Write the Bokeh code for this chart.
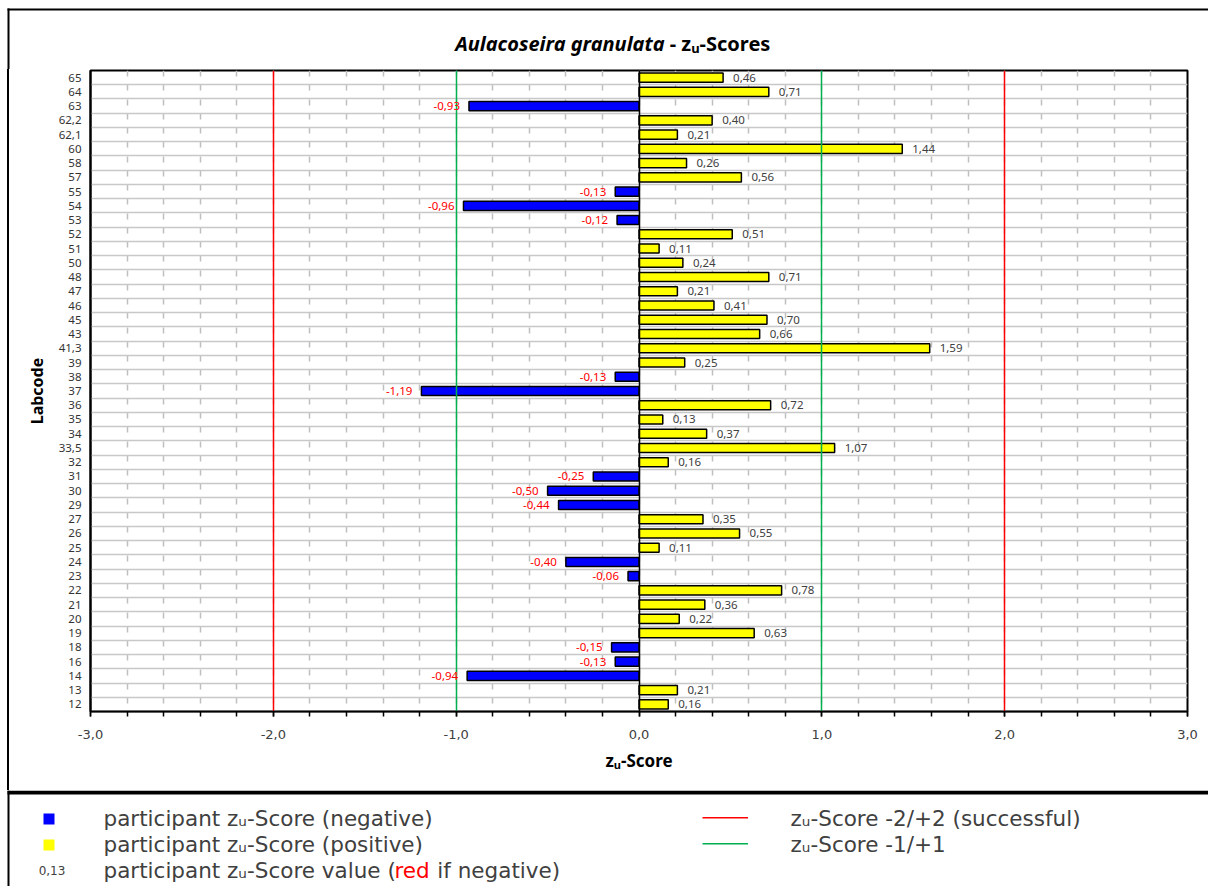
from bokeh.plotting import figure
from bokeh.models import FactorRange, Range1d, FixedTicker, ColumnDataSource
from bokeh.transform import dodge
from bokeh.core.properties import value
from bokeh.embed import file_html
from bokeh.resources import INLINE

# ---------------- data ----------------
labcodes = ["65", "64", "63", "62,2", "62,1", "60", "58", "57", "55", "54", "53", "52", "51",
            "50", "48", "47", "46", "45", "43", "41,3", "39", "38", "37", "36", "35", "34",
            "33,5", "32", "31", "30", "29", "27", "26", "25", "24", "23", "22", "21", "20",
            "19", "18", "16", "14", "13", "12"]
zscores = [0.46, 0.71, -0.93, 0.40, 0.21, 1.44, 0.26, 0.56, -0.13, -0.96, -0.12, 0.51, 0.11,
           0.24, 0.71, 0.21, 0.41, 0.70, 0.66, 1.59, 0.25, -0.13, -1.19, 0.72, 0.13, 0.37,
           1.07, 0.16, -0.25, -0.50, -0.44, 0.35, 0.55, 0.11, -0.40, -0.06, 0.78, 0.36, 0.22,
           0.63, -0.15, -0.13, -0.94, 0.21, 0.16]
x_ticks = [-3, -2, -1, 0, 1, 2, 3]
x_tick_labels = ["-3,0", "-2,0", "-1,0", "0,0", "1,0", "2,0", "3,0"]
success_limits = [-2, 2]
warning_limits = [-1, 1]
zero_line = [0]

NEG_COLOR = "#0000FF"
POS_COLOR = "#FFFF00"
RED = "#FF0000"
GREEN = "#00B050"
TXT = "#404040"
NBSP = "\u00a0"

def fmt(v):
    return f"{v:.2f}".replace(".", ",")

colors = [NEG_COLOR if v < 0 else POS_COLOR for v in zscores]
src = ColumnDataSource(dict(lab=labcodes, z=zscores, color=colors))
pos = [(l, v) for l, v in zip(labcodes, zscores) if v >= 0]
neg = [(l, v) for l, v in zip(labcodes, zscores) if v < 0]
pos_src = ColumnDataSource(dict(lab=[a for a, _ in pos], z=[b for _, b in pos], txt=[fmt(b) for _, b in pos]))
neg_src = ColumnDataSource(dict(lab=[a for a, _ in neg], z=[b for _, b in neg], txt=[fmt(b) for _, b in neg]))

minor = [round(-3 + 0.2 * i, 1) for i in range(31)]

W = 1208

# ---------------- title strip ----------------
tt = figure(width=W, height=69, x_range=Range1d(0, W), y_range=Range1d(69, 0),
            output_backend="svg", toolbar_location=None, title=None, min_border=0,
            x_axis_location=None, y_axis_location=None)
tt.outline_line_color = None
tt.background_fill_color = "white"
tt.border_fill_color = "white"
tt.xgrid.visible = False
tt.ygrid.visible = False
tt.segment(x0=[7], y0=[9], x1=[W], y1=[9], line_color="black", line_width=2)
tt.segment(x0=[8], y0=[8], x1=[8], y1=[69], line_color="black", line_width=2)
tt.text(x=[664], y=[43], text=["Aulacoseira granulata"], text_align="right",
        text_baseline="alphabetic", text_font=value("Noto Sans"), text_font_style="bold italic",
        text_font_size="20px", text_color="black")
tt.text(x=[664], y=[43], text=[NBSP + "- zᵤ-Scores"], text_align="left",
        text_baseline="alphabetic", text_font=value("Noto Sans"), text_font_style="bold",
        text_font_size="20px", text_color="black")

# ---------------- main chart ----------------
p = figure(width=W, height=721, x_range=Range1d(-3, 3),
           y_range=FactorRange(factors=labcodes[::-1]),
           output_backend="svg", toolbar_location=None, title=None,
           min_border_left=90, min_border_right=21, min_border_top=1, min_border_bottom=79)
p.styles = {"box-shadow": "inset 7px 0 0 0 #ffffff, inset 9px 0 0 0 #000000"}
p.background_fill_color = "white"
p.border_fill_color = None
p.outline_line_color = "black"
p.outline_line_width = 2
p.outline_line_alpha = 1

# x axis
p.xaxis.ticker = FixedTicker(ticks=x_ticks, minor_ticks=minor)
p.xaxis.major_label_overrides = {t: l for t, l in zip(x_ticks, x_tick_labels)}
p.xaxis.axis_line_color = "black"
p.xaxis.axis_line_width = 1.5
p.xaxis.major_tick_in = 0
p.xaxis.major_tick_out = 5
p.xaxis.minor_tick_in = 0
p.xaxis.minor_tick_out = 5
p.xaxis.major_tick_line_color = "black"
p.xaxis.minor_tick_line_color = "black"
p.xaxis.major_tick_line_width = 1.5
p.xaxis.minor_tick_line_width = 1.5
p.xaxis.major_label_text_font = "DejaVu Sans"
p.xaxis.major_label_text_font_size = "13px"
p.xaxis.major_label_text_color = TXT
p.xaxis.major_label_standoff = 13
p.xaxis.axis_label = "zᵤ-Score"
p.xaxis.axis_label_text_font = "Noto Sans"
p.xaxis.axis_label_text_font_style = "bold"
p.xaxis.axis_label_text_font_size = "17px"
p.xaxis.axis_label_text_color = "black"
p.xaxis.axis_label_standoff = 7

# y axis
p.yaxis.axis_line_color = "black"
p.yaxis.axis_line_width = 2
p.yaxis.major_tick_in = 0
p.yaxis.major_tick_out = 0
p.yaxis.major_label_text_font = "Noto Sans"
p.yaxis.major_label_text_font_size = "11.5px"
p.yaxis.major_label_text_color = "#333333"
p.yaxis.major_label_standoff = 9
p.yaxis.axis_label = "Labcode"
p.yaxis.axis_label_text_font = "Noto Sans"
p.yaxis.axis_label_text_font_style = "bold"
p.yaxis.axis_label_text_font_size = "16px"
p.yaxis.axis_label_text_color = "black"
p.yaxis.axis_label_standoff = 8

# grids
p.ygrid.grid_line_color = None
p.xgrid.ticker = FixedTicker(ticks=minor)
p.xgrid.grid_line_color = "#BFBFBF"
p.xgrid.grid_line_width = 1.5
p.xgrid.grid_line_dash = "6 8 6 8 6 8 6 9"
p.xgrid.grid_line_dash_offset = 6

# horizontal separators between categories
p.hspan(y=dodge("lab", -0.5, range=p.y_range), source=src, line_color="#C8C8C8", line_width=1.5)

# bars
p.hbar(y="lab", left=0, right="z", height=0.64, fill_color="color", line_color="black",
       line_width=1.5, source=src)

# reference lines
p.vspan(x=success_limits, line_color=RED, line_width=1.5)
p.vspan(x=warning_limits, line_color=GREEN, line_width=1.5)
p.vspan(x=zero_line, line_color="black", line_width=1.5)

# value labels
p.text(x="z", y="lab", text="txt", source=pos_src, x_offset=10, text_align="left",
       text_baseline="middle", text_font=value("Noto Sans"), text_font_size="11.5px",
       text_color=TXT)
p.text(x="z", y="lab", text="txt", source=neg_src, x_offset=-9, text_align="right",
       text_baseline="middle", text_font=value("Noto Sans"), text_font_size="11.5px",
       text_color=RED)

# ---------------- legend panel ----------------
lg = figure(width=W, height=96, x_range=Range1d(0, W), y_range=Range1d(96, 0),
            output_backend="svg", toolbar_location=None, title=None, min_border=0,
            x_axis_location=None, y_axis_location=None)
lg.outline_line_color = None
lg.background_fill_color = "white"
lg.border_fill_color = "white"
lg.xgrid.visible = False
lg.ygrid.visible = False

lg.segment(x0=[7], y0=[2], x1=[W], y1=[2], line_color="black", line_width=4)
lg.segment(x0=[8], y0=[0], x1=[8], y1=[96], line_color="black", line_width=2)

lg.rect(x=[48.5], y=[28.5], width=11, height=11, fill_color=NEG_COLOR, line_color=None)
lg.rect(x=[48.5], y=[54.5], width=11, height=11, fill_color=POS_COLOR, line_color=None)
lg.text(x=[51.5], y=[80], text=["0,13"], text_align="center", text_baseline="middle",
        text_font=value("DejaVu Sans"), text_font_size="12px", text_color=TXT)

LF = value("DejaVu Sans")
LS = "21.5px"
lg.text(x=[103, 103, 103], y=[28, 54, 80],
        text=["participant zᵤ-Score (negative)", "participant zᵤ-Score (positive)",
              "participant zᵤ-Score value ("],
        text_align="left", text_baseline="middle", text_font=LF, text_font_size=LS,
        text_color=TXT)
lg.text(x=[394], y=[80], text=["red"], text_align="left", text_baseline="middle",
        text_font=LF, text_font_size=LS, text_color=RED)
lg.text(x=[430], y=[80], text=[NBSP + "if negative)"], text_align="left", text_baseline="middle",
        text_font=LF, text_font_size=LS, text_color=TXT)

lg.segment(x0=[702], y0=[27.3], x1=[747.5], y1=[27.3], line_color=RED, line_width=1.5)
lg.segment(x0=[702], y0=[53.3], x1=[747.5], y1=[53.3], line_color=GREEN, line_width=1.5)
lg.text(x=[790, 790], y=[28, 54], text=["zᵤ-Score -2/+2 (successful)", "zᵤ-Score -1/+1"],
        text_align="left", text_baseline="middle", text_font=LF, text_font_size=LS,
        text_color=TXT)

open("out.html", "w").write(file_html([tt, p, lg], INLINE))
